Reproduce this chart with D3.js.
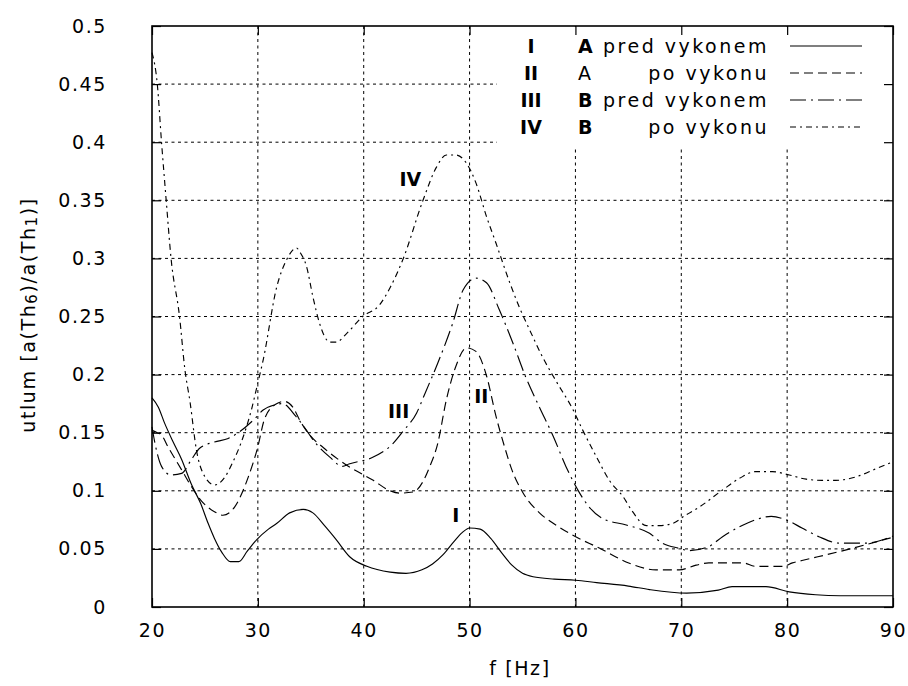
<!DOCTYPE html>
<html><head><meta charset="utf-8">
<script src="https://cdn.jsdelivr.net/npm/d3@7"></script>
<style>
body{margin:0;background:#fff}
svg text{font-family:"DejaVu Sans",sans-serif;fill:#000}
</style></head>
<body><svg id="c" width="908" height="686"></svg>
<script>
// ---- data ----
const xTicks = [20,30,40,50,60,70,80,90];
const yTicks = [0,0.05,0.1,0.15,0.2,0.25,0.3,0.35,0.4,0.45,0.5];
const yTickLabels = ["0","0.05","0.1","0.15","0.2","0.25","0.3","0.35","0.4","0.45","0.5"];

const fI = [20,20.6,21.2,22,22.8,23.7,24.6,25.3,25.9,26.6,27.4,28.2,29,29.9,31,31.8,33,34.3,35.2,36.3,37.4,38.7,40.3,42.5,44,45.5,46.5,47.5,48.5,49.3,50,51,52,53,54,55,56,58,60,62,65,67,70.5,73.5,74.8,78,80.2,82.7,85,90];
const vI = [0.18,0.172,0.158,0.142,0.127,0.106,0.089,0.072,0.059,0.047,0.039,0.039,0.048,0.058,0.067,0.072,0.081,0.084,0.081,0.07,0.058,0.043,0.035,0.030,0.029,0.032,0.037,0.045,0.056,0.064,0.068,0.067,0.059,0.047,0.036,0.029,0.026,0.024,0.023,0.021,0.018,0.015,0.012,0.0145,0.0175,0.0175,0.013,0.0105,0.0097,0.0097];

const fII = [20,20.5,20.9,21.5,22.8,23.7,24.6,25.9,26.7,27.8,29.1,30,30.6,31.6,32.5,33.3,34,34.9,36.2,38.4,40.9,42.5,43.4,44.7,45.6,46.2,47,47.8,48.7,49.7,50.6,51.6,52.5,53.3,54,55,56.6,57.9,59.7,62.3,65.1,67.6,69.8,71.4,72.6,75.8,77,79.6,80.5,81.4,84.9,90];
const vII = [0.152,0.15,0.148,0.138,0.118,0.104,0.092,0.082,0.079,0.086,0.112,0.138,0.161,0.174,0.177,0.172,0.16,0.148,0.137,0.122,0.109,0.1,0.098,0.099,0.108,0.12,0.141,0.178,0.207,0.223,0.22,0.199,0.164,0.138,0.118,0.099,0.081,0.072,0.062,0.0505,0.0376,0.032,0.032,0.036,0.038,0.038,0.035,0.035,0.038,0.04,0.0476,0.06];

const fIII = [20,20.3,20.9,21.8,22.8,23.7,24.5,25.9,27.2,28.3,29.7,30.5,31.6,32.3,33.6,34.6,35.2,36.8,38,38.6,40.9,42.8,43.7,45,45.8,47,48.4,49.4,50.6,51.6,52.8,54.1,55.3,56.6,57.9,59.1,60.4,61.3,62.6,64.8,67,68.2,69.8,70.75,72.6,73.9,75.5,77,78.5,79.9,81.4,83,84.9,87.4,90];
const vIII = [0.155,0.14,0.121,0.1136,0.115,0.1265,0.1366,0.142,0.145,0.151,0.162,0.1695,0.174,0.175,0.164,0.152,0.144,0.129,0.121,0.123,0.129,0.141,0.151,0.167,0.184,0.21,0.244,0.273,0.283,0.279,0.256,0.227,0.198,0.172,0.147,0.121,0.098,0.086,0.076,0.0706,0.0634,0.055,0.0505,0.0485,0.052,0.0605,0.069,0.075,0.078,0.075,0.068,0.0605,0.055,0.055,0.061];

const fIV = [20,20.5,20.9,21.35,21.8,22.6,23.1,23.6,24.2,25,25.9,26.9,27.6,28.4,29.4,30,30.5,31.8,32.7,33.65,34,34.6,35.2,35.8,36.8,37.4,38.4,39.9,41.5,42.5,43.7,45.6,46.9,47.8,48.7,49.7,50.6,51.6,52.5,53.8,54.7,55.7,56.9,58.2,59.7,60.7,62,63.2,64.5,65.4,66.7,67.9,69.2,70.4,71.7,73.9,75.5,77,78.6,80.2,81.8,83.3,84.6,86.5,88.4,90];
const vIV = [0.477,0.45,0.40,0.349,0.3,0.25,0.205,0.176,0.135,0.112,0.105,0.112,0.124,0.141,0.17,0.193,0.2125,0.276,0.2986,0.309,0.305,0.293,0.267,0.245,0.228,0.228,0.2355,0.25,0.26,0.275,0.299,0.35,0.379,0.389,0.389,0.382,0.365,0.336,0.313,0.279,0.258,0.238,0.215,0.194,0.171,0.152,0.129,0.109,0.095,0.082,0.070,0.070,0.072,0.079,0.086,0.1007,0.1107,0.1165,0.1165,0.1136,0.11,0.109,0.109,0.112,0.119,0.125];

const seriesNames = ["I","II","III","IV"];
const legendLead = ["A","A","B","B"];
const legendLeadBold = [true,false,true,true];
const legendText = ["pred vykonem","po vykonu","pred vykonem","po vykonu"];
const dashes = [null,"9,5","16,5,2,5","6,4,2,4"];

// ---- layout ----
const L=152,R=893,T=26,B=607;
const svg = d3.select("#c");
const x = d3.scaleLinear().domain([20,90]).range([L,R]);
const y = d3.scaleLinear().domain([0,0.5]).range([B,T]);
const FS = 19, LS = "1.6px";

// grid
const g = svg.append("g");
g.selectAll(".vg").data(xTicks.slice(1,-1)).join("line")
  .attr("x1",d=>x(d)).attr("x2",d=>x(d)).attr("y1",T).attr("y2",B)
  .attr("stroke","#000").attr("stroke-width",1).attr("stroke-dasharray","3,3.5");
g.selectAll(".hg").data(yTicks.slice(1,-1)).join("line")
  .attr("y1",d=>y(d)).attr("y2",d=>y(d)).attr("x1",L).attr("x2",R)
  .attr("stroke","#000").attr("stroke-width",1).attr("stroke-dasharray","3,3.5");
// key box clears grid
svg.append("rect").attr("x",497).attr("y",T+1).attr("width",R-497-1).attr("height",119).attr("fill","#fff");

// axes with inward ticks, mirrored
function styleAxis(sel){
  sel.select(".domain").remove();
  sel.selectAll("line").attr("stroke","#000").attr("stroke-width",1.2);
  sel.selectAll("text").attr("font-size",FS).style("letter-spacing",LS).attr("font-family","DejaVu Sans");
}
svg.append("g").attr("transform",`translate(${L},0)`)
  .call(d3.axisLeft(y).tickValues(yTicks).tickFormat((d,i)=>yTickLabels[i]).tickSizeInner(-9).tickSizeOuter(0).tickPadding(45))
  .call(styleAxis);
svg.append("g").attr("transform",`translate(${R},0)`)
  .call(d3.axisRight(y).tickValues(yTicks).tickFormat("").tickSizeInner(-9).tickSizeOuter(0))
  .call(styleAxis);
svg.append("g").attr("transform",`translate(0,${B})`)
  .call(d3.axisBottom(x).tickValues(xTicks).tickFormat(d3.format("d")).tickSizeInner(-9).tickSizeOuter(0).tickPadding(17))
  .call(styleAxis);
svg.append("g").attr("transform",`translate(0,${T})`)
  .call(d3.axisTop(x).tickValues(xTicks).tickFormat("").tickSizeInner(-9).tickSizeOuter(0))
  .call(styleAxis);

// frame
svg.append("rect").attr("x",L).attr("y",T).attr("width",R-L).attr("height",B-T)
  .attr("fill","none").attr("stroke","#000").attr("stroke-width",1.6);

// curves
const line = d3.line().x(d=>x(d[0])).y(d=>y(d[1])).curve(d3.curveMonotoneX);
const all = [[fI,vI],[fII,vII],[fIII,vIII],[fIV,vIV]].map(([f,v])=>f.map((ff,i)=>[ff,v[i]]));
all.forEach((pts,i)=>{
  svg.append("path").datum(pts).attr("d",line).attr("fill","none")
    .attr("stroke","#000").attr("stroke-width",1.15)
    .attr("stroke-dasharray",dashes[i]);
});

// curve labels
const curveLabels = [["IV",44.4,0.368],["III",43.3,0.169],["II",51.1,0.182],["I",48.7,0.079]];
curveLabels.forEach(([t,fx,vy])=>{
  svg.append("text").attr("x",x(fx)).attr("y",y(vy)).attr("text-anchor","middle")
    .attr("dominant-baseline","central").attr("font-size",FS).attr("font-weight","bold").text(t);
});

// legend
const rowY = [46,73,100,127];
seriesNames.forEach((n,i)=>{
  svg.append("text").attr("x",531).attr("y",rowY[i]).attr("text-anchor","middle")
    .attr("dominant-baseline","central").attr("font-size",FS).attr("font-weight","bold").text(n);
  svg.append("text").attr("x",578).attr("y",rowY[i]).attr("dominant-baseline","central")
    .attr("font-size",FS).attr("font-weight",legendLeadBold[i]?"bold":"normal").text(legendLead[i]);
  svg.append("text").attr("x",769).attr("y",rowY[i]).attr("text-anchor","end")
    .attr("dominant-baseline","central").attr("font-size",FS).style("letter-spacing","2.5px").text(legendText[i]);
  svg.append("line").attr("x1",790).attr("x2",862).attr("y1",rowY[i]).attr("y2",rowY[i])
    .attr("stroke","#000").attr("stroke-width",1.15).attr("stroke-dasharray",dashes[i]);
});

// axis titles
svg.append("text").attr("x",520).attr("y",668).attr("text-anchor","middle")
  .attr("dominant-baseline","central").attr("font-size",FS).style("letter-spacing",LS).text("f [Hz]");
const yt = svg.append("text").attr("transform","translate(28,315) rotate(-90)").attr("text-anchor","middle")
  .attr("dominant-baseline","central").attr("font-size",FS).style("letter-spacing",LS);
yt.append("tspan").text("utlum [a(Th");
yt.append("tspan").attr("font-size",15).attr("dy",4).text("6");
yt.append("tspan").attr("dy",-4).text(")/a(Th");
yt.append("tspan").attr("font-size",15).attr("dy",4).text("1");
yt.append("tspan").attr("dy",-4).text(")]");
</script></body></html>
